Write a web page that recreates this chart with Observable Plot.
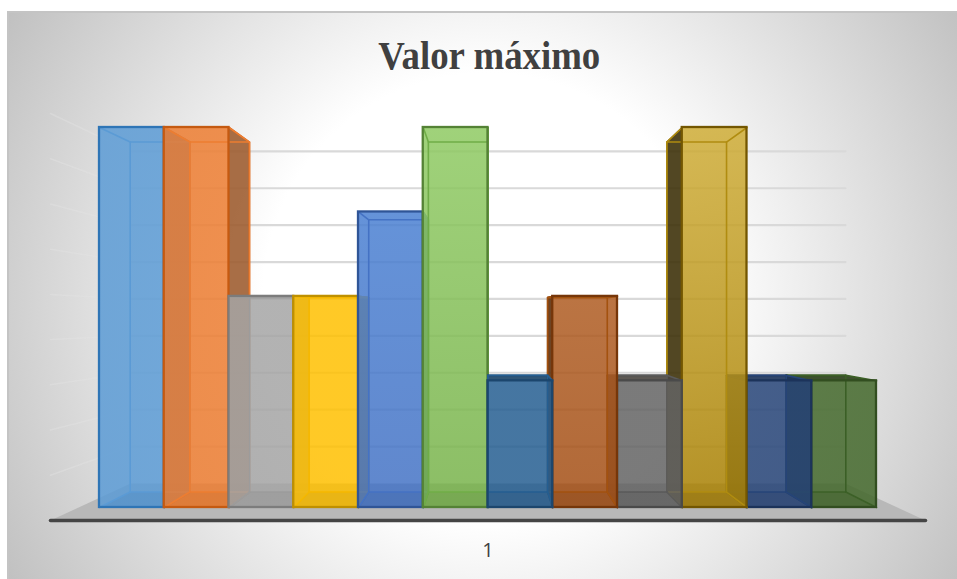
<!DOCTYPE html>
<html><head><meta charset="utf-8">
<script src="https://cdn.jsdelivr.net/npm/d3@7"></script>
<script src="https://cdn.jsdelivr.net/npm/@observablehq/plot@0.6"></script>
<style>
html,body{margin:0;padding:0;background:#fff;overflow:hidden}
#bg{position:absolute;left:7px;top:11px;right:0;height:567px;border-left:2px solid #c4c4c4;border-top:2px solid #c4c4c4;
background:radial-gradient(circle 560px at 478px 284px,#fff 0%,#fff 40%,#c0c0c0 100%)}
#chart{position:absolute;left:0;top:0}
svg{background:transparent!important}
</style></head><body>
<div id="bg"></div><div id="chart"></div>
<script>
const titleText = "Valor máximo";
const categoryLabel = "1";
const seriesValues = [9, 9, 5, 5, 7, 9, 3, 5, 3, 9, 3, 3];
const topColors = ["#5B9BD5","#ED7D31","#A5A5A5","#FFC000","#4A80D2","#8FCA63","#255E91","#AF5C22","#636363","#CFAD37","#264478","#43682B"];
const bottomColors = ["#5B9BD5","#ED7D31","#A5A5A5","#FFC000","#4472C4","#77B24A","#255E91","#A34E14","#636363","#A88002","#264478","#43682B"];
const innerColors = ["#5B9BD5","#ED7D31","#9C9C9C","#F5B800","#4472C4","#70AD47","#255E91","#A3520F","#5A5A5A","#B08C10","#264478","#3C6027"];
const edgeColors = ["#2E75B6","#C55A11","#7C7C7C","#BF9000","#2F5597","#548235","#1C466D","#763609","#4A4A4A","#735600","#1C335A","#324E20"];
const sideColors = ["#3F7AB5","#9C5A2C","#8A8A8A","#C79500","#2F5597","#4F8030","#1A4266","#5A2A06","#4A4640","#3A2E05","#1C335A","#2A3F1A"];
const wallLevels = [0,1,2,3,4,5,6,7,8,9];

const vanishX = 6, vanishY = 4.64, depth = 0.921, alpha = 0.85;
const backX = x => vanishX + depth * (x - vanishX);
const backY = y => vanishY + depth * (y - vanishY);
const floorFrontX = [-0.757, 12.757], floorBackX = [0.479, 11.52];
const floorFrontY = -0.308, floorBackY = 0.569;
const wallFrontStep = 1.071, wallBackStep = 0.874;

const poly = (pts, o) => Plot.line(pts, {curve: "linear-closed", stroke: "none", ...o});
const seg = (pts, o) => Plot.line(pts, {strokeWidth: 1.5, ...o});

const marks = [];
marks.push(poly([[floorFrontX[0],floorFrontY],[floorFrontX[1],floorFrontY],[floorBackX[1],floorBackY],[floorBackX[0],floorBackY]],{fill:"#b8b8b8"}));
wallLevels.forEach(k => {
  const yb = floorBackY + wallBackStep * k, yf = floorFrontY + wallFrontStep * k;
  if (k > 0) marks.push(seg([[floorBackX[0],yb],[floorBackX[1],yb]],{stroke:"#d9d9d9",strokeWidth:2.2}));
  if (k > 0) marks.push(seg([[floorFrontX[0],yf],[floorBackX[0],yb]],{stroke:"#e4e4e4",strokeOpacity:0.4,strokeWidth:1.5}));
});
marks.push(seg([[floorFrontX[0],floorFrontY],[floorFrontX[1],floorFrontY]],{stroke:"#454545",strokeWidth:3.5,strokeLinecap:"round"}));

function box(i){
  const v = seriesValues[i], x0 = i, x1 = i + 1, e = edgeColors[i], s = sideColors[i];
  const bx0 = backX(x0), bx1 = backX(x1), by0 = backY(0), byv = backY(v);
  const inner = {stroke: innerColors[i], strokeWidth: 1.6};
  const sx = i < 6 ? x1 : x0, sb = i < 6 ? bx1 : bx0;
  marks.push(poly([[sx,0],[sx,v],[sb,byv],[sb,by0]],{fill:s,fillOpacity:0.88}));
  marks.push(seg([[sx,v],[sb,byv],[sb,by0],[sx,0]],{stroke:e,strokeWidth:1.6}));
  if (byv > v) marks.push(poly([[x0,v],[x1,v],[bx1,byv],[bx0,byv]],{fill:s,fillOpacity:0.9}));
  if (byv > v) marks.push(seg([[bx0,byv],[bx1,byv]],{stroke:e,strokeWidth:1.6}));
  marks.push(Plot.rect([0],{x1:()=>x0,x2:()=>x1,y1:()=>0,y2:()=>v,fill:`url(#grad${i})`,fillOpacity:alpha,stroke:"none"}));
  marks.push(poly([[x0,0],[x1,0],[bx1,by0],[bx0,by0]],{fill:e,fillOpacity:0.2}));
  marks.push(seg([[bx0,by0],[bx0,byv],[bx1,byv],[bx1,by0]],inner));
  marks.push(seg([[bx0,by0],[bx1,by0]],inner));
  [[x0,bx0],[x1,bx1]].forEach(([a,b]) => {
    marks.push(seg([[a,v],[b,byv]],inner));
    marks.push(seg([[a,0],[b,by0]],inner));
  });
  marks.push(Plot.rect([0],{x1:()=>x0,x2:()=>x1,y1:()=>0,y2:()=>v,fill:"none",stroke:e,strokeWidth:2.3}));
}
[0,1,2,3,4,5].forEach(box);
[11,10,9,8,7,6].forEach(box);

marks.push(Plot.text([titleText],{x:()=>6.02,y:()=>10.68,fontFamily:"Liberation Serif",fontWeight:"bold",fontSize:39,fill:"#404040",textAnchor:"middle",className:"chart-title"}));
marks.push(Plot.axisX({ticks:[6],tickFormat:()=>categoryLabel,tickSize:0,tickPadding:35,label:null,fontSize:20,fontFamily:"Open Sans",color:"#404040",anchor:"bottom"}));

const chart = Plot.plot({width:957,height:579,marginLeft:99,marginRight:81,marginTop:127,marginBottom:72,
  style:{background:"transparent",overflow:"visible"},
  x:{domain:[0,12]},y:{domain:[0,9],axis:null},marks});
const defs = d3.select(chart).insert("defs",":first-child");
seriesValues.forEach((_,i)=>{
  const g = defs.append("linearGradient").attr("id",`grad${i}`).attr("x1",0).attr("y1",0).attr("x2",0).attr("y2",1);
  g.append("stop").attr("offset","0%").attr("stop-color",topColors[i]);
  g.append("stop").attr("offset","100%").attr("stop-color",bottomColors[i]);
});
d3.select(chart).selectAll(".chart-title text").attr("textLength",222).attr("lengthAdjust","spacingAndGlyphs");
document.getElementById("chart").append(chart);
</script></body></html>
